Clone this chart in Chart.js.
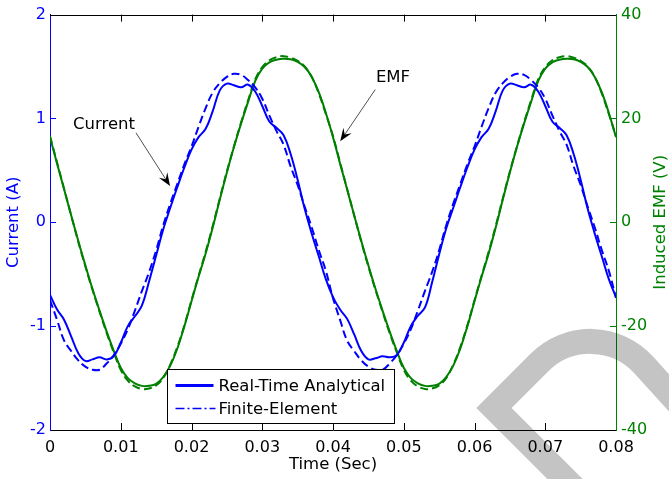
<!DOCTYPE html>
<html>
<head>
<meta charset="utf-8">
<script src="https://cdn.jsdelivr.net/npm/chart.js@4/dist/chart.umd.min.js"></script>
<style>
  html, body { margin: 0; padding: 0; background: #fff; }
  #wrap { width: 669px; height: 479px; }
</style>
</head>
<body>
<div id="wrap"><canvas id="c" width="669" height="479"></canvas></div>
<script>
// Sample times (s)
const timeSec = [
  0.000, 0.001, 0.002, 0.003, 0.004, 0.005, 0.006, 0.007, 0.008, 0.009,
  0.010, 0.011, 0.012, 0.013, 0.014, 0.015, 0.016, 0.017, 0.018, 0.019,
  0.020, 0.021, 0.022, 0.023, 0.024, 0.025, 0.026, 0.027, 0.028, 0.029,
  0.030, 0.031, 0.032, 0.033, 0.034, 0.035, 0.036, 0.037, 0.038, 0.039,
  0.040, 0.041, 0.042, 0.043, 0.044, 0.045, 0.046, 0.047, 0.048, 0.049,
  0.050, 0.051, 0.052, 0.053, 0.054, 0.055, 0.056, 0.057, 0.058, 0.059,
  0.060, 0.061, 0.062, 0.063, 0.064, 0.065, 0.066, 0.067, 0.068, 0.069,
  0.070, 0.071, 0.072, 0.073, 0.074, 0.075, 0.076, 0.077, 0.078, 0.079,
  0.080
];

// Coil current (A), real-time analytical model
const currentAnalytical = [
  -0.70, -0.84, -0.94, -1.10, -1.26, -1.335, -1.32, -1.30, -1.32, -1.29,
  -1.16, -1.00, -0.905, -0.80, -0.57, -0.32, -0.07, 0.14, 0.34, 0.53,
  0.70, 0.82, 0.90, 1.07, 1.27, 1.335, 1.32, 1.30, 1.325, 1.26,
  1.12, 0.97, 0.91, 0.84, 0.66, 0.41, 0.13, -0.11, -0.33, -0.55,
  -0.72, -0.84, -0.93, -1.08, -1.24, -1.32, -1.31, -1.29, -1.30, -1.28,
  -1.16, -1.00, -0.90, -0.82, -0.58, -0.31, -0.06, 0.14, 0.34, 0.53,
  0.70, 0.82, 0.90, 1.07, 1.27, 1.335, 1.32, 1.30, 1.325, 1.26,
  1.12, 0.97, 0.91, 0.84, 0.66, 0.41, 0.13, -0.11, -0.33, -0.55,
  -0.72
];

// Coil current (A), finite-element model
const currentFE = [
  -0.75, -0.94, -1.14, -1.24, -1.33, -1.39, -1.42, -1.42, -1.36, -1.28,
  -1.17, -1.03, -0.85, -0.66, -0.48, -0.27, -0.03, 0.18, 0.37, 0.56,
  0.73, 0.92, 1.10, 1.25, 1.34, 1.40, 1.43, 1.42, 1.37, 1.30,
  1.19, 1.03, 0.88, 0.75, 0.54, 0.36, 0.15, -0.05, -0.27, -0.47,
  -0.73, -0.94, -1.14, -1.24, -1.33, -1.39, -1.42, -1.42, -1.36, -1.28,
  -1.17, -1.03, -0.85, -0.66, -0.48, -0.27, -0.03, 0.18, 0.37, 0.56,
  0.73, 0.92, 1.10, 1.25, 1.34, 1.40, 1.43, 1.42, 1.37, 1.30,
  1.19, 1.03, 0.88, 0.75, 0.54, 0.36, 0.15, -0.05, -0.27, -0.47,
  -0.73
];

// Induced EMF (V), real-time analytical model
const emfAnalytical = [
  16.4, 11.3, 6.3, 1.3, -3.6, -8.3, -12.8, -17.0, -21.0, -24.7,
  -28.0, -30.0, -31.0, -31.5, -31.5, -31.1, -29.8, -27.6, -24.3, -20.0,
  -15.2, -10.5, -6.0, -1.0, 4.4, 9.6, 14.5, 19.0, 23.2, 27.2,
  29.6, 30.8, 31.3, 31.5, 31.4, 30.9, 29.9, 28.0, 25.0, 21.0,
  16.4, 11.3, 6.3, 1.3, -3.6, -8.3, -12.8, -17.0, -21.0, -24.7,
  -28.0, -30.0, -31.0, -31.5, -31.5, -31.1, -29.8, -27.6, -24.3, -20.0,
  -15.2, -10.5, -6.0, -1.0, 4.4, 9.6, 14.5, 19.0, 23.2, 27.2,
  29.6, 30.8, 31.3, 31.5, 31.4, 30.9, 29.9, 28.0, 25.0, 21.0,
  16.4
];

// Induced EMF (V), finite-element model
const emfFE = [
  16.6, 11.5, 6.4, 1.3, -3.8, -8.5, -13.0, -17.2, -21.3, -25.0,
  -28.4, -30.5, -31.6, -32.1, -32.0, -31.4, -30.0, -27.4, -24.0, -19.8,
  -15.0, -10.3, -5.7, -0.7, 4.6, 9.8, 14.6, 19.2, 23.5, 27.5,
  29.9, 31.2, 31.8, 32.0, 31.7, 31.1, 30.0, 28.0, 24.8, 20.8,
  16.6, 11.5, 6.4, 1.3, -3.8, -8.5, -13.0, -17.2, -21.3, -25.0,
  -28.4, -30.5, -31.6, -32.1, -32.0, -31.4, -30.0, -27.4, -24.0, -19.8,
  -15.0, -10.3, -5.7, -0.7, 4.6, 9.8, 14.6, 19.2, 23.5, 27.5,
  29.9, 31.2, 31.8, 32.0, 31.7, 31.1, 30.0, 28.0, 24.8, 20.8,
  16.6
];

// Axis tick labels
const timeTickLabels = ['0', '0.01', '0.02', '0.03', '0.04', '0.05', '0.06', '0.07', '0.08'];
const currentTickLabels = ['-2', '-1', '0', '1', '2'];
const emfTickLabels = ['-40', '-20', '0', '20', '40'];
const emfAxisTitle = 'Induced EMF (V)';

// Text callouts: [label, t, current-axis value] and arrows [tailT, tailI, tipT, tipI]
const calloutLabels = ['Current', 'EMF'];
const calloutText = [[0.00325, 0.942], [0.04607, 1.396]];
const calloutArrows = [[0.01216, 0.861, 0.01697, 0.350], [0.04597, 1.278, 0.04102, 0.781]];

const legendLabels = ['Real-Time Analytical', 'Finite-Element'];

const BLUE = '#0000ff';
const GREEN = '#008000';
const FONT = 'DejaVu Sans';

const pts = (vals) => vals.map((v, i) => ({ x: timeSec[i], y: v }));

// Inward tick marks and the upper frame line
const frameTicks = {
  id: 'frameTicks',
  afterDatasetsDraw(chart) {
    const { ctx, chartArea: a, scales } = chart;
    const x = scales.x, yA = scales.yA, yE = scales.yE;
    ctx.save();
    ctx.lineWidth = 1;
    ctx.strokeStyle = '#000';
    ctx.beginPath();
    ctx.moveTo(a.left, Math.round(a.top) + 0.5);
    ctx.lineTo(a.right, Math.round(a.top) + 0.5);
    x.ticks.forEach((t, i) => {
      if (i === 0 || i === x.ticks.length - 1) return;
      const px = Math.round(x.getPixelForValue(t.value)) + 0.5;
      ctx.moveTo(px, a.bottom); ctx.lineTo(px, a.bottom - 7);
      ctx.moveTo(px, a.top); ctx.lineTo(px, a.top + 7);
    });
    ctx.stroke();
    ctx.strokeStyle = BLUE;
    ctx.beginPath();
    yA.ticks.forEach((t, i) => {
      if (i === 0 || i === yA.ticks.length - 1) return;
      const py = Math.round(yA.getPixelForValue(t.value)) + 0.5;
      ctx.moveTo(a.left, py); ctx.lineTo(a.left + 6, py);
    });
    ctx.stroke();
    ctx.strokeStyle = GREEN;
    ctx.beginPath();
    yE.ticks.forEach((t, i) => {
      if (i === 0 || i === yE.ticks.length - 1) return;
      const py = Math.round(yE.getPixelForValue(t.value)) + 0.5;
      ctx.moveTo(a.right, py); ctx.lineTo(a.right - 6, py);
    });
    ctx.stroke();
    ctx.restore();
  }
};

// Right-hand axis title, reading bottom to top like the left one
const emfTitle = {
  id: 'emfTitle',
  afterDraw(chart) {
    const { ctx, chartArea: a } = chart;
    ctx.save();
    ctx.translate(661, (a.top + a.bottom) / 2);
    ctx.rotate(-Math.PI / 2);
    ctx.fillStyle = GREEN;
    ctx.font = '16.5px "' + FONT + '"';
    ctx.textAlign = 'center';
    ctx.textBaseline = 'middle';
    ctx.fillText(emfAxisTitle, 0, 0);
    ctx.restore();
  }
};

// Callout labels with arrows
const callouts = {
  id: 'callouts',
  afterDatasetsDraw(chart) {
    const { ctx, scales } = chart;
    const x = scales.x, y = scales.yA;
    ctx.save();
    ctx.fillStyle = '#000';
    ctx.font = '16.5px "' + FONT + '"';
    ctx.textAlign = 'left';
    ctx.textBaseline = 'middle';
    calloutLabels.forEach((lab, i) => {
      ctx.fillText(lab, x.getPixelForValue(calloutText[i][0]), y.getPixelForValue(calloutText[i][1]));
    });
    calloutArrows.forEach(([t0, v0, t1, v1]) => {
      const x0 = x.getPixelForValue(t0), y0 = y.getPixelForValue(v0);
      const x1 = x.getPixelForValue(t1), y1 = y.getPixelForValue(v1);
      const len = Math.hypot(x1 - x0, y1 - y0);
      const dx = (x1 - x0) / len, dy = (y1 - y0) / len;
      const nx = -dy, ny = dx;
      ctx.strokeStyle = '#222';
      ctx.lineWidth = 0.8;
      ctx.beginPath();
      ctx.moveTo(x0, y0);
      ctx.lineTo(x1 - 8 * dx, y1 - 8 * dy);
      ctx.stroke();
      ctx.fillStyle = '#000';
      ctx.beginPath();
      ctx.moveTo(x1, y1);
      ctx.lineTo(x1 - 13 * dx + 5 * nx, y1 - 13 * dy + 5 * ny);
      ctx.lineTo(x1 - 8 * dx, y1 - 8 * dy);
      ctx.lineTo(x1 - 13 * dx - 5 * nx, y1 - 13 * dy - 5 * ny);
      ctx.closePath();
      ctx.fill();
    });
    ctx.restore();
  }
};

// Boxed legend in the lower part of the plot
const boxLegend = {
  id: 'boxLegend',
  afterDatasetsDraw(chart) {
    const { ctx, chartArea: a } = chart;
    const left = Math.round(a.left + 117) + 0.5;
    const top = Math.round(a.bottom - 61) + 0.5;
    const w = 227, h = 54;
    ctx.save();
    ctx.fillStyle = '#fff';
    ctx.fillRect(left, top, w, h);
    ctx.strokeStyle = '#000';
    ctx.lineWidth = 1;
    ctx.strokeRect(left, top, w, h);
    const rows = [top + 16, top + 39];
    ctx.strokeStyle = BLUE;
    ctx.lineWidth = 3;
    ctx.beginPath();
    ctx.moveTo(left + 8, rows[0]); ctx.lineTo(left + 46, rows[0]);
    ctx.stroke();
    ctx.lineWidth = 1.6;
    ctx.setLineDash([9, 3, 2, 3]);
    ctx.beginPath();
    ctx.moveTo(left + 8, rows[1]); ctx.lineTo(left + 48, rows[1]);
    ctx.stroke();
    ctx.setLineDash([]);
    ctx.fillStyle = '#000';
    ctx.font = '16.5px "' + FONT + '"';
    ctx.textAlign = 'left';
    ctx.textBaseline = 'middle';
    legendLabels.forEach((lab, i) => ctx.fillText(lab, left + 51, rows[i] + 1));
    ctx.restore();
  }
};

// Large grey stamp in the lower right corner
const cornerStamp = {
  id: 'cornerStamp',
  afterDraw(chart) {
    const { ctx } = chart;
    ctx.save();
    ctx.globalCompositeOperation = 'multiply';
    ctx.strokeStyle = '#c4c4c4';
    ctx.lineWidth = 25;
    ctx.lineJoin = 'miter';
    ctx.beginPath();
    ctx.moveTo(610, 524);
    ctx.lineTo(494, 408);
    ctx.arcTo(593, 309, 720, 449, 72);
    ctx.lineTo(720, 449);
    ctx.stroke();
    ctx.restore();
  }
};

new Chart(document.getElementById('c'), {
  type: 'line',
  data: {
    datasets: [
      { label: 'Current, Real-Time Analytical', data: pts(currentAnalytical), yAxisID: 'yA',
        borderColor: BLUE, borderWidth: 2, tension: 0.4 },
      { label: 'Current, Finite-Element', data: pts(currentFE), yAxisID: 'yA',
        borderColor: BLUE, borderWidth: 2, borderDash: [8, 4], tension: 0.4 },
      { label: 'EMF, Real-Time Analytical', data: pts(emfAnalytical), yAxisID: 'yE',
        borderColor: GREEN, borderWidth: 2, tension: 0.4 },
      { label: 'EMF, Finite-Element', data: pts(emfFE), yAxisID: 'yE',
        borderColor: GREEN, borderWidth: 2, borderDash: [8, 4], tension: 0.4 }
    ]
  },
  options: {
    responsive: false,
    animation: false,
    devicePixelRatio: 1,
    layout: { padding: { top: 13, left: 0, right: 0, bottom: 0 } },
    elements: { point: { radius: 0 }, line: { fill: false } },
    plugins: { legend: { display: false }, tooltip: { enabled: false } },
    scales: {
      x: {
        type: 'linear', min: 0, max: 0.08,
        afterBuildTicks: (s) => { s.ticks = timeTickLabels.map(v => ({ value: parseFloat(v) })); },
        ticks: {
          autoSkip: false, maxRotation: 0, padding: 8, color: '#000',
          font: { family: FONT, size: 16 },
          callback: (v, i) => timeTickLabels[i]
        },
        grid: { display: false, drawTicks: false },
        border: { display: true, color: '#000', width: 1 },
        title: { display: true, text: 'Time (Sec)', color: '#000',
                 font: { family: FONT, size: 16.5, lineHeight: 1 }, padding: { top: 0, bottom: 6 } },
        afterFit: (s) => { s.height = 49; }
      },
      yA: {
        type: 'linear', position: 'left', min: -2, max: 2,
        afterBuildTicks: (s) => { s.ticks = currentTickLabels.map(v => ({ value: parseFloat(v) })); },
        ticks: {
          autoSkip: false, padding: 4, color: BLUE,
          font: { family: FONT, size: 16 },
          callback: (v, i) => currentTickLabels[i]
        },
        grid: { display: false, drawTicks: false },
        border: { display: true, color: BLUE, width: 1 },
        title: { display: true, text: 'Current (A)', color: BLUE,
                 font: { family: FONT, size: 16.5, lineHeight: 1 }, padding: { top: 5, bottom: 0 } },
        afterFit: (s) => { s.width = 50; }
      },
      yE: {
        type: 'linear', position: 'right', min: -40, max: 40,
        afterBuildTicks: (s) => { s.ticks = emfTickLabels.map(v => ({ value: parseFloat(v) })); },
        ticks: {
          autoSkip: false, padding: 5, color: GREEN,
          font: { family: FONT, size: 16 },
          callback: (v, i) => emfTickLabels[i]
        },
        grid: { display: false, drawTicks: false },
        border: { display: true, color: GREEN, width: 1 },
        title: { display: false },
        afterFit: (s) => { s.width = 53; }
      }
    }
  },
  plugins: [frameTicks, callouts, boxLegend, emfTitle, cornerStamp]
});
</script>
</body>
</html>
